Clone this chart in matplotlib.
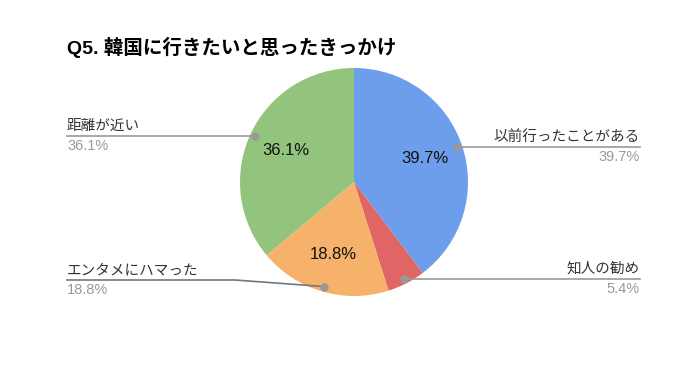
import numpy as np
import matplotlib
matplotlib.use("Agg")
import matplotlib.pyplot as plt

plt.rcParams['font.family'] = ['Liberation Sans', 'Noto Sans CJK JP', 'DejaVu Sans']

# data
title = "Q5. 韓国に行きたいと思ったきっかけ"
categories = ["以前行ったことがある", "知人の勧め", "エンタメにハマった", "距離が近い"]
values = [39.7, 5.4, 18.8, 36.1]
colors = ["#6d9eeb", "#e06666", "#f6b26b", "#93c47d"]

W, H = 692, 372
fig = plt.figure(figsize=(W / 100, H / 100), dpi=100)
ax = fig.add_axes([0, 0, 1, 1])

cx, cy, R = 354, H - 182, 114
# small slices get no label inside
wedges, _, autotexts = ax.pie(values, colors=colors, startangle=90, counterclock=False,
                              center=(cx, cy), radius=R,
                              autopct=lambda p: f"{p:.1f}%" if p > 8 else "",
                              pctdistance=0.66,
                              textprops=dict(fontsize=12, color="#111111"),
                              wedgeprops=dict(linewidth=0))
ax.set_xlim(0, W)
ax.set_ylim(0, H)
ax.set_aspect("equal")
ax.axis("off")

ax.text(67, H - 47, title, fontsize=14, fontweight="bold", va="center", ha="left", color="#000000")

# label line heights, pixels from top
label_y = [147, 279, 280, 136]
for w, cat, v, ly in zip(wedges, categories, values, label_y):
    ang = np.deg2rad((w.theta1 + w.theta2) / 2)
    dx, dy = cx + 0.955 * R * np.cos(ang), cy + 0.955 * R * np.sin(ang)
    y = H - ly
    right = np.cos(ang) > 0
    xe = 640 if right else 67
    if abs(dy - y) >= 2:
        ax.plot([xe, 235, dx], [y, y, dy], color="#777777", lw=1.2)
    else:
        ax.plot([xe, dx], [y, y], color="#999999", lw=1.2)
    ha = "right" if right else "left"
    ax.text(xe, y + 3, cat, ha=ha, va="bottom", fontsize=10.5, color="#333333")
    ax.text(xe, y - 3, f"{v}%", ha=ha, va="top", fontsize=10.5, color="#999999")
    ax.plot(dx, dy, "o", color="#999999", ms=5, zorder=5)

fig.savefig("out.png", dpi=100)
